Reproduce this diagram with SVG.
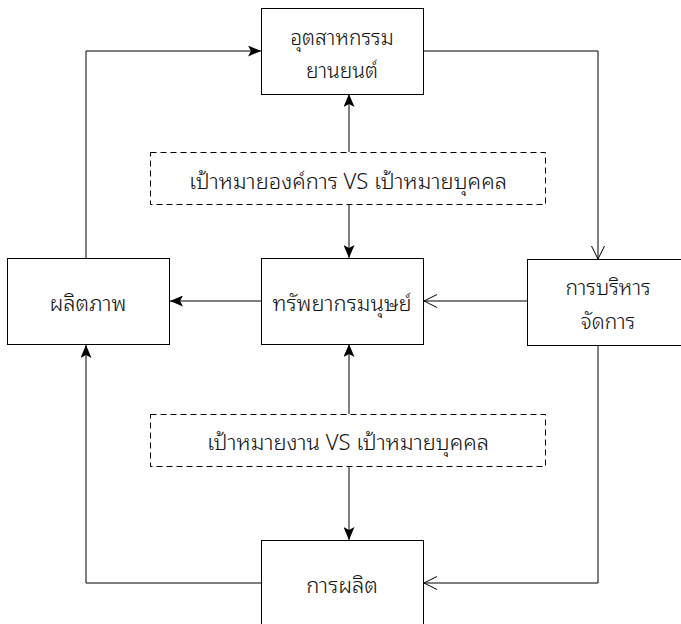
<svg xmlns="http://www.w3.org/2000/svg" width="681" height="624" viewBox="0 0 681 624">
  <defs>
    <marker id="fill" viewBox="0 0 13 11" refX="13" refY="5.5" markerWidth="13" markerHeight="11" markerUnits="userSpaceOnUse" orient="auto">
      <path d="M0,0 L13,5.5 L0,11 L3,5.5 Z" fill="#000"/>
    </marker>
    <marker id="open" viewBox="0 0 13 14" refX="13" refY="7" markerWidth="13" markerHeight="14" markerUnits="userSpaceOnUse" orient="auto">
      <path d="M0,0.5 L13,7 L0,13.5" fill="none" stroke="#000" stroke-width="1"/>
    </marker>
  </defs>
  <style>
    .box { fill: #fff; stroke: #000; stroke-width: 1; }
    .dash { fill: #fff; stroke: #000; stroke-width: 1; stroke-dasharray: 6 4; }
    .lbl { font-family: "Noto Sans Thai Looped", "Noto Sans Thai", "Noto Sans", "DejaVu Sans", sans-serif; font-size: 22px; font-weight: 300; fill: #111; text-anchor: middle; dominant-baseline: central; }
    .sm { font-size: 21px; }
    .edge { fill: none; stroke: #000; stroke-width: 1; }
  </style>
  <rect width="681" height="624" fill="#fff"/>

  <g id="connectors">
    <path class="edge" d="M86,259 L86,51 L261,51" marker-end="url(#fill)"/>
    <path class="edge" d="M424,51 L598,51 L598,259" marker-end="url(#open)"/>
    <path class="edge" d="M598,346 L598,583 L424,583" marker-end="url(#open)"/>
    <path class="edge" d="M262,583 L86,583 L86,345" marker-end="url(#fill)"/>
    <path class="edge" d="M262,301 L170,301" marker-end="url(#fill)"/>
    <path class="edge" d="M527,301 L424,301" marker-end="url(#open)"/>
    <path class="edge" d="M349,152 L349,94" marker-end="url(#fill)"/>
    <path class="edge" d="M349,205 L349,258" marker-end="url(#fill)"/>
    <path class="edge" d="M349,414 L349,344" marker-end="url(#fill)"/>
    <path class="edge" d="M349,467 L349,540" marker-end="url(#fill)"/>
  </g>

  <g id="industry">
    <rect class="box" x="261.5" y="8.5" width="162" height="86"/>
    <text class="lbl sm" x="342" y="35">อุตสาหกรรม</text>
    <text class="lbl sm" x="342" y="68">ยานยนต์</text>
  </g>

  <g id="goal-org">
    <rect class="dash" x="150.5" y="152.5" width="395" height="52"/>
    <text class="lbl" x="348" y="179">เป้าหมายองค์การ VS เป้าหมายบุคคล</text>
  </g>

  <g id="productivity">
    <rect class="box" x="7.5" y="258.5" width="162" height="86"/>
    <text class="lbl" x="88" y="301">ผลิตภาพ</text>
  </g>

  <g id="human-resources">
    <rect class="box" x="261.5" y="258.5" width="162" height="86"/>
    <text class="lbl" x="342" y="301">ทรัพยากรมนุษย์</text>
  </g>

  <g id="management">
    <rect class="box" x="527.5" y="259.5" width="162" height="86"/>
    <text class="lbl sm" x="608" y="285">การบริหาร</text>
    <text class="lbl sm" x="608" y="319">จัดการ</text>
  </g>

  <g id="goal-work">
    <rect class="dash" x="150.5" y="414.5" width="395" height="52"/>
    <text class="lbl" x="348" y="440">เป้าหมายงาน VS เป้าหมายบุคคล</text>
  </g>

  <g id="production">
    <rect class="box" x="261.5" y="540.5" width="162" height="86"/>
    <text class="lbl" x="342" y="583">การผลิต</text>
  </g>
</svg>
